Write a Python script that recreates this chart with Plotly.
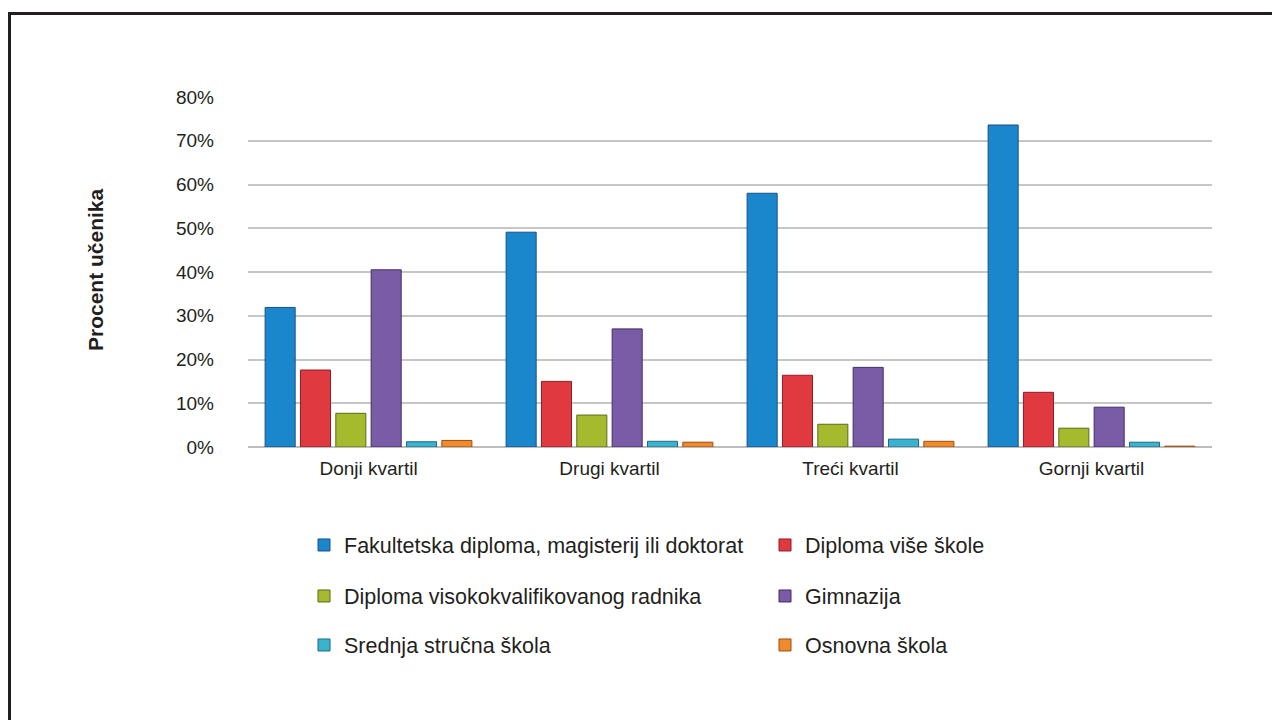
import plotly.graph_objects as go

kvartili = ["Donji kvartil", "Drugi kvartil", "Treći kvartil", "Gornji kvartil"]

fakultet = [0.319, 0.491, 0.580, 0.736]
visa_skola = [0.176, 0.150, 0.164, 0.125]
vkv = [0.077, 0.073, 0.052, 0.043]
gimnazija = [0.405, 0.270, 0.182, 0.091]
srednja = [0.012, 0.013, 0.018, 0.011]
osnovna = [0.015, 0.011, 0.013, 0.002]

serije = [
    ("Fakultetska diploma, magisterij ili doktorat", fakultet, "#1a86cb", "#1b4f86", "legend"),
    ("Diploma više škole", visa_skola, "#e0393f", "#8e1f24", "legend"),
    ("Diploma visokokvalifikovanog radnika", vkv, "#a5ba2d", "#5c6b18", "legend2"),
    ("Gimnazija", gimnazija, "#7a5ca6", "#3f2d66", "legend2"),
    ("Srednja stručna škola", srednja, "#3bb3cf", "#1d6a80", "legend3"),
    ("Osnovna škola", osnovna, "#f08a2a", "#9a4f12", "legend3"),
]

# raspored (pikseli); stranica ima marginu od 8 px oko grafa
OFF = 8
ML, MR, MT, MB = 240, 76, 89, 281
W, H = 1280, 720
PW, PH = W - ML - MR, H - MT - MB


def px_x(p):
    return (p - OFF - ML) / PW


def px_y(p):
    return (OFF + H - MB - p) / PH


fig = go.Figure()
for ime, vrijednosti, boja, rub, leg in serije:
    fig.add_trace(go.Bar(
        x=kvartili, y=vrijednosti, name=ime, legend=leg,
        marker=dict(color=boja, line=dict(color=rub, width=1)),
    ))

tekst = "#231f20"
legenda = dict(
    orientation="h", xanchor="left", yanchor="middle", x=px_x(304),
    font=dict(size=21.5, color=tekst), entrywidth=416, traceorder="normal",
    bgcolor="rgba(0,0,0,0)",
)

fig.update_layout(
    width=W, height=H,
    margin=dict(l=ML, r=MR, t=MT, b=MB),
    paper_bgcolor="white", plot_bgcolor="white",
    font=dict(family="Liberation Sans, Arial, sans-serif", color=tekst, size=19),
    barmode="group", bargap=0.12, bargroupgap=0.15,
    showlegend=True,
    legend=dict(legenda, y=px_y(545)),
    legend2=dict(legenda, y=px_y(596)),
    legend3=dict(legenda, y=px_y(645)),
    xaxis=dict(
        showgrid=False, showline=False, ticks="", ticklabelstandoff=8,
        tickfont=dict(size=19, color=tekst),
    ),
    yaxis=dict(
        range=[0, 0.8], dtick=0.1, tickformat=".0%",
        showgrid=True, gridcolor="#c6c6c6", gridwidth=2,
        zeroline=True, zerolinecolor="#bdbdbd", zerolinewidth=2,
        showline=False, ticks="", ticklabelstandoff=33,
        tickfont=dict(size=19, color=tekst),
    ),
    annotations=[dict(
        text="<b>Procent učenika</b>", textangle=-90,
        xref="paper", yref="paper", x=px_x(95), y=px_y(270),
        xanchor="center", yanchor="middle",
        showarrow=False, font=dict(size=21, color=tekst),
    )],
    shapes=[
        dict(type="line", xref="paper", yref="paper",
             x0=px_x(9.5), x1=px_x(9.5), y0=px_y(12), y1=px_y(730),
             line=dict(color="#231f20", width=3)),
        dict(type="line", xref="paper", yref="paper",
             x0=px_x(8), x1=px_x(1290), y0=px_y(13.5), y1=px_y(13.5),
             line=dict(color="#231f20", width=3)),
    ],
)

fig.write_html("out.html")
